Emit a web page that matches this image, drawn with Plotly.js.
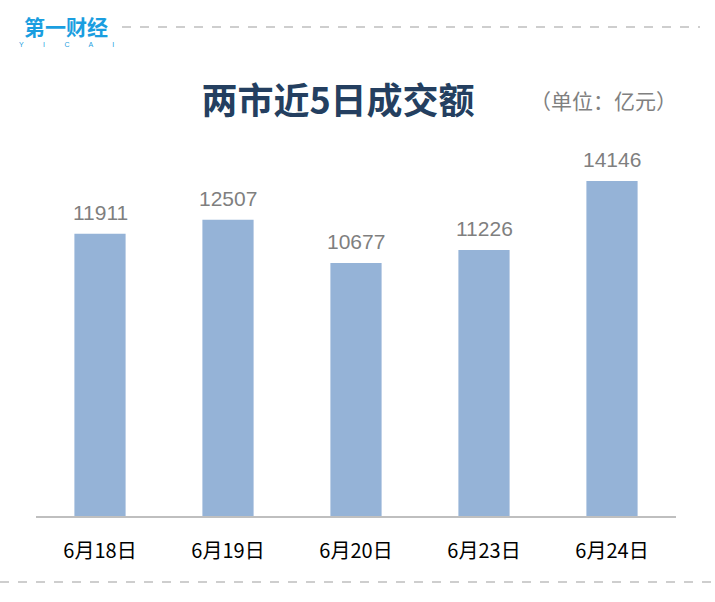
<!DOCTYPE html>
<html>
<head>
<meta charset="utf-8">
<script src="https://cdn.plot.ly/plotly-3.0.1.min.js"></script>
<style>html,body{margin:0;padding:0;background:#fff;}#chart{width:715px;height:602px;}</style>
</head>
<body>
<div id="chart"></div>
<script>
var categories = ['6月18日', '6月19日', '6月20日', '6月23日', '6月24日'];
var values = [11911, 12507, 10677, 11226, 14146];

var W = 715, H = 602;
var M = {l: 36, r: 39, t: 137, b: 86};
var PW = W - M.l - M.r, PH = H - M.t - M.b;
function px(x) { return (x - M.l) / PW; }
function py(y) { return (H - M.b - y) / PH; }

var font = '"Noto Sans CJK SC", "Noto Sans", sans-serif';

var trace = {
  type: 'bar',
  x: categories,
  y: values,
  marker: {color: '#95b3d7'},
  hoverinfo: 'none'
};

var annotations = values.map(function (v, i) {
  return {
    x: categories[i], y: v, xref: 'x', yref: 'y',
    text: String(v), showarrow: false,
    yanchor: 'bottom', yshift: 8,
    font: {family: 'Arial, "Liberation Sans", sans-serif', size: 21, color: '#7f7f7f'}
  };
});

annotations.push({
  xref: 'paper', yref: 'paper', x: px(603), y: py(100),
  text: '（单位：亿元）', showarrow: false, xanchor: 'center', yanchor: 'middle',
  font: {family: font, size: 21, color: '#808080'}
});
annotations.push({
  xref: 'paper', yref: 'paper', x: px(66), y: py(26),
  text: '<b>第一财经</b>', showarrow: false, xanchor: 'center', yanchor: 'middle',
  font: {family: font, size: 21, color: '#1a9ee0'}
});
annotations.push({
  xref: 'paper', yref: 'paper', x: px(66), y: py(45),
  text: 'Y          I          C          A          I', showarrow: false, xanchor: 'center', yanchor: 'middle',
  font: {family: 'Arial, sans-serif', size: 7, color: '#1a9ee0'}
});

var shapes = [
  {type: 'line', xref: 'paper', yref: 'paper', x0: px(122), x1: px(700), y0: py(27), y1: py(27),
   line: {color: '#bfbfbf', width: 1.5, dash: 'dash'}},
  {type: 'line', xref: 'paper', yref: 'paper', x0: px(0), x1: px(715), y0: py(582), y1: py(582),
   line: {color: '#bfbfbf', width: 1.5, dash: 'dash'}}
];

var layout = {
  width: W, height: H,
  margin: M,
  paper_bgcolor: '#ffffff', plot_bgcolor: '#ffffff',
  showlegend: false,
  bargap: 0.6,
  title: {
    text: '<b>两市近5日成交额</b>',
    x: 338 / W, xanchor: 'center', xref: 'container',
    y: 1 - 101 / H, yanchor: 'middle', yref: 'container',
    font: {family: font, size: 36, color: '#243f60'}
  },
  xaxis: {
    type: 'category',
    showline: true, linecolor: '#bfbfbf', linewidth: 2,
    showgrid: false, zeroline: false, ticks: '',
    ticklabelstandoff: 16,
    tickfont: {family: font, size: 20, color: '#000000'}
  },
  yaxis: {
    range: [0, 16000], visible: false, showgrid: false, zeroline: false
  },
  annotations: annotations,
  shapes: shapes
};

Plotly.newPlot('chart', [trace], layout, {displayModeBar: false, staticPlot: true});
</script>
</body>
</html>
